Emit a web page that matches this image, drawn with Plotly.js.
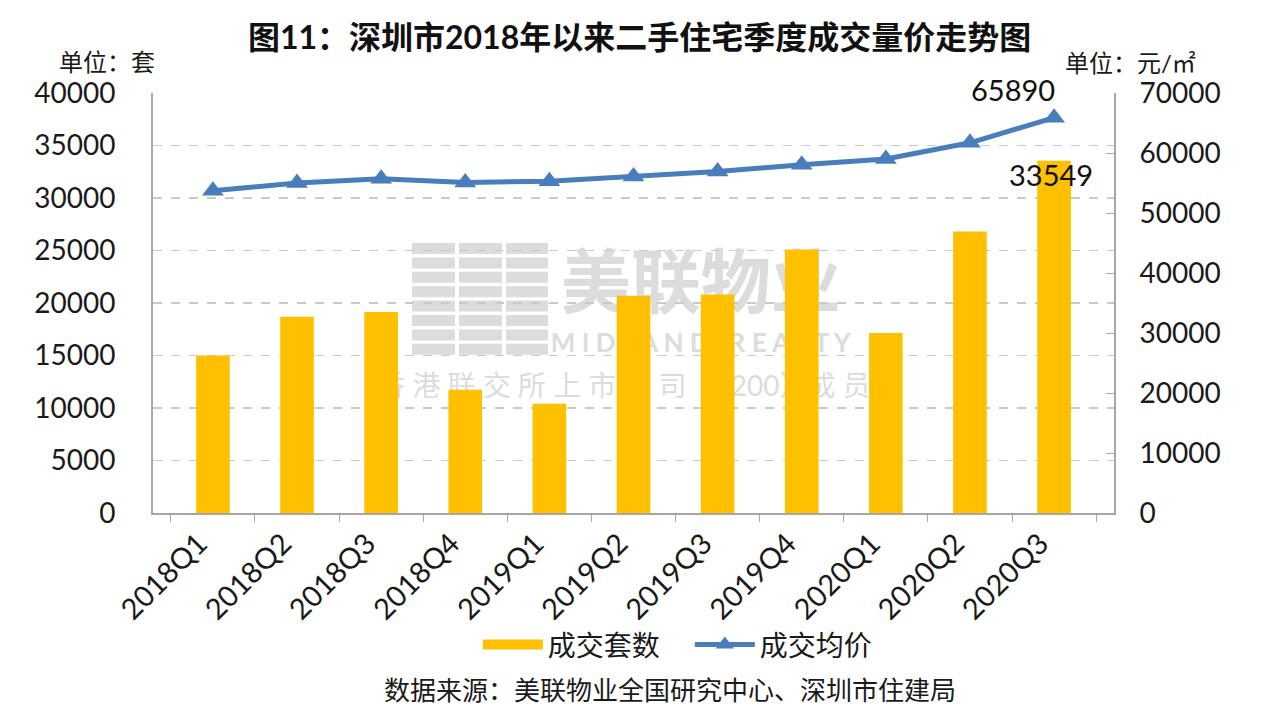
<!DOCTYPE html>
<html>
<head>
<meta charset="utf-8">
<script src="https://cdn.plot.ly/plotly-3.0.1.min.js"></script>
<style>
  html, body { margin: 0; padding: 0; background: #fff; }
  #chart { width: 1269px; height: 719px; }
</style>
</head>
<body>
<div id="chart"></div>
<script>
"use strict";

const quarters = ['2018Q1', '2018Q2', '2018Q3', '2018Q4', '2019Q1', '2019Q2',
                  '2019Q3', '2019Q4', '2020Q1', '2020Q2', '2020Q3'];
const volume = [15000, 18700, 19150, 11750, 10400, 20700, 20800, 25100, 17150, 26800, 33549];
const price = [53700, 55000, 55700, 55100, 55300, 56100, 56900, 58050, 59000, 61700, 65890];

const chartTitle = '图11：深圳市2018年以来二手住宅季度成交量价走势图';
const leftUnit = '单位：套';
const rightUnit = '单位：元/㎡';
const sourceNote = '数据来源：美联物业全国研究中心、深圳市住建局';
const volumeName = '成交套数';
const priceName = '成交均价';

const FONT = "Lato, 'Noto Sans CJK SC', sans-serif";
const BAR = '#ffc000', LINE = '#4a7dbb', GRID = '#c9c9c9', AXIS = '#a6a6a6', WM = '#dcdcdc';

function main() {
    let last = quarters.length - 1;

    // legend stand-in so the bar key is a wide block like the original
    let barKey = {
        x: [null], y: [null],
        name: volumeName,
        type: 'scatter', mode: 'lines',
        line: { color: BAR, width: 14 },
        hoverinfo: 'skip'
    };
    let bars = {
        x: quarters,
        y: volume,
        name: volumeName,
        type: 'bar',
        marker: { color: BAR },
        showlegend: false,
        yaxis: 'y'
    };
    let line = {
        x: quarters,
        y: price,
        name: priceName,
        type: 'scatter',
        mode: 'lines+markers',
        line: { color: LINE, width: 5 },
        marker: { symbol: 'triangle-up', size: 19, color: LINE },
        yaxis: 'y2'
    };

    // watermark drawn beneath the traces
    let mark = (x0, x1, y0, y1, text, size, bold) => ({
        type: 'rect', xref: 'paper', yref: 'paper', layer: 'below',
        x0: x0, x1: x1, y0: y0, y1: y1,
        line: { width: 0 }, fillcolor: 'rgba(0,0,0,0)',
        label: { text: bold ? '<b>' + text + '</b>' : text, textposition: 'middle center',
                 font: { family: FONT, size: size, color: WM } }
    });
    let shapes = [
        mark(0.43, 0.71, 0.47, 0.64, '美联物业', 70, true),
        mark(0.43, 0.71, 0.38, 0.435, 'M I D L A N D   R E A L T Y', 26, true),
        mark(0.26, 0.72, 0.27, 0.34, '香 港 联 交 所 上 市 公 司（1200）成 员', 28, false)
    ];
    // logo stripes of the watermark
    let cols = [[412, 455], [459, 502], [506, 548]];
    for (let c of cols) {
        for (let k = 0; k < 8; k++) {
            let top = 243 + k * 14.4;
            shapes.push({
                type: 'rect', xref: 'paper', yref: 'paper', layer: 'below',
                x0: (c[0] - 153) / 961, x1: (c[1] - 153) / 961,
                y0: (513 - top - 11) / 420, y1: (513 - top) / 420,
                line: { width: 0 }, fillcolor: WM
            });
        }
    }

    let layout = {
        width: 1269,
        height: 719,
        margin: { l: 153, r: 155, t: 93, b: 206 },
        paper_bgcolor: '#fff',
        plot_bgcolor: 'rgba(0,0,0,0)',
        font: { family: FONT, size: 24, color: '#1a1a1a' },
        title: {
            text: '<b>' + chartTitle + '</b>',
            font: { family: FONT, size: 32, color: '#111' },
            x: 0.504, xanchor: 'center',
            y: 0.948, yanchor: 'middle', yref: 'container'
        },
        bargap: 0.6,
        showlegend: true,
        legend: {
            orientation: 'h',
            x: 0.338, xanchor: 'left',
            y: -0.314, yanchor: 'middle',
            font: { family: FONT, size: 28, color: '#1a1a1a' },
            itemwidth: 60,
            entrywidth: 137, entrywidthmode: 'pixels'
        },
        xaxis: {
            type: 'category',
            tickangle: -45,
            tickfont: { family: FONT, size: 29 },
            ticklabelshift: -14,
            showline: true, linecolor: AXIS, linewidth: 2,
            ticks: 'outside', tickson: 'boundaries', ticklen: 7, tickcolor: AXIS,
            showgrid: false
        },
        yaxis: {
            range: [0, 40000],
            dtick: 5000,
            tickformat: 'd',
            tickfont: { family: FONT, size: 28 },
            showline: true, linecolor: AXIS, linewidth: 2,
            showgrid: true, gridcolor: GRID, gridwidth: 1.5, griddash: 'dash',
            zeroline: false,
            ticks: '', ticklabelstandoff: 30
        },
        yaxis2: {
            overlaying: 'y',
            side: 'right',
            range: [0, 70000],
            dtick: 10000,
            tickformat: 'd',
            tickfont: { family: FONT, size: 28 },
            showline: true, linecolor: AXIS, linewidth: 2,
            showgrid: false, zeroline: false,
            ticks: 'inside', ticklen: 8, tickcolor: AXIS,
            ticklabelstandoff: 18
        },
        shapes: shapes,
        annotations: [
            { text: leftUnit, xref: 'paper', yref: 'paper', x: -0.1, y: 1.074,
              xanchor: 'left', yanchor: 'middle', showarrow: false,
              font: { family: FONT, size: 24 } },
            { text: rightUnit, xref: 'paper', yref: 'paper', x: 0.947, y: 1.072,
              xanchor: 'left', yanchor: 'middle', showarrow: false,
              font: { family: FONT, size: 24 } },
            { text: String(price[last]), x: quarters[last], y: price[last], yref: 'y2',
              xanchor: 'center', yanchor: 'middle', xshift: -41, yshift: 28,
              showarrow: false, font: { family: FONT, size: 29, color: '#111' } },
            { text: String(volume[last]), x: quarters[last], y: volume[last], yref: 'y',
              xanchor: 'center', yanchor: 'middle', xshift: -3, yshift: -14,
              showarrow: false, font: { family: FONT, size: 29, color: '#111' } },
            { text: sourceNote, xref: 'paper', yref: 'paper', x: 0.538, y: -0.421,
              xanchor: 'center', yanchor: 'middle', showarrow: false,
              font: { family: FONT, size: 26 } }
        ]
    };

    let chart = document.getElementById('chart');
    Plotly.newPlot(chart, [barKey, bars, line], layout, { displayModeBar: false, staticPlot: true });
}

document.addEventListener('DOMContentLoaded', event => main());
</script>
</body>
</html>
